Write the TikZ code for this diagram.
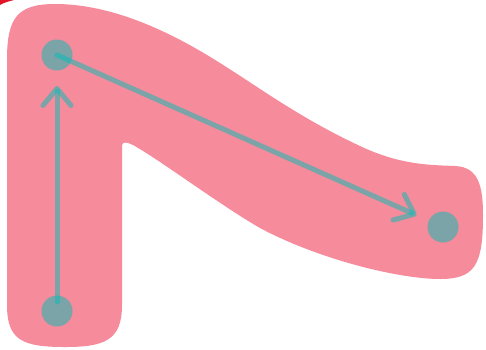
\documentclass[tikz,border=0pt]{standalone}
\usetikzlibrary{arrows.meta}
\definecolor{blobpink}{RGB}{245,139,155}
\definecolor{dotteal}{RGB}{0,190,182}
\definecolor{markred}{RGB}{225,20,40}
\tikzset{
  dot/.style={circle, fill=dotteal, fill opacity=0.5, draw=none, minimum size=31pt, inner sep=0pt},
  link/.style={draw=dotteal, draw opacity=0.5, line width=5pt, line cap=round,
    -{Straight Barb[length=17pt,width=28pt,round]}}
}
\begin{document}
\begin{tikzpicture}[x=1pt,y=-1pt]
\useasboundingbox (0,0) rectangle (486,349);
% red mark in the corner
\fill[markred] (0,0) -- (14,0) .. controls (8,1.5) and (3,3) .. (0,5) -- cycle;
% pink blob
\fill[blobpink] (7,60) .. controls (7,18) and (17,4) .. (55,4)
  .. controls (105,4) and (160,25) .. (220,63)
  .. controls (260,88) and (300,118) .. (360,146)
  .. controls (400,165) and (430,165) .. (455,166)
  .. controls (478,167) and (483,185) .. (483,215)
  .. controls (483,265) and (475,279) .. (440,279)
  .. controls (400,279) and (320,260) .. (260,228)
  .. controls (220,205) and (160,160) .. (133,145)
  .. controls (127,142) and (122,141) .. (122,146)
  -- (122,305) .. controls (122,340) and (105,347) .. (65,347)
  .. controls (22,347) and (7,340) .. (7,305) -- cycle;
% dots
\node[dot] (a) at (57,311) {};
\node[dot] (b) at (57,55) {};
\node[dot] (c) at (443,227) {};
% arrows
\draw[link, shorten <=9pt, shorten >=31pt] (a.center) -- (b.center);
\draw[link, shorten >=29pt] (b.center) -- (c.center);
\end{tikzpicture}
\end{document}
